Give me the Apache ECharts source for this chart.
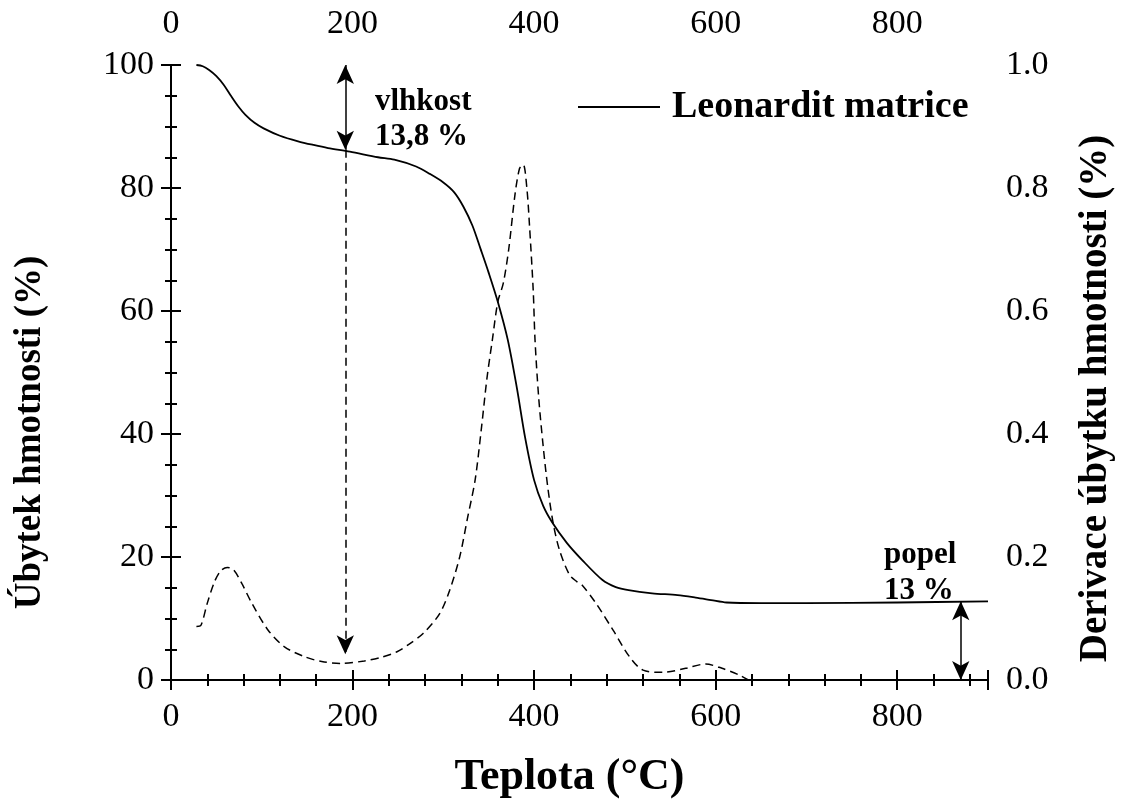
<!DOCTYPE html>
<html>
<head>
<meta charset="utf-8">
<script src="https://cdn.jsdelivr.net/npm/echarts@6/dist/echarts.min.js"></script>
<style>html,body{margin:0;padding:0;background:#fff}#c{width:1123px;height:805px}</style>
</head>
<body>
<div id="c"></div>
<script>
// ---- data ----
const xTicks = [0, 200, 400, 600, 800];
const leftTicks = [0, 20, 40, 60, 80, 100];
const rightTicks = ['0.0', '0.2', '0.4', '0.6', '0.8', '1.0'];

// TG curve: temperature (°C) and weight (%)
const tgTemp = [28, 35, 42, 50, 58, 66, 74, 82, 92, 102, 120, 140, 157, 173, 197, 228, 246, 270, 285, 300, 312, 322, 332, 341, 350, 360, 371, 381, 390, 400, 410, 420, 436, 453, 475, 490, 504, 530, 558, 578, 595, 612, 650, 700, 800, 900];
const tgMass = [100, 99.8, 99.2, 98.2, 96.8, 95.0, 93.3, 91.9, 90.6, 89.7, 88.5, 87.6, 87.0, 86.5, 85.9, 85.0, 84.6, 83.5, 82.3, 80.9, 79.3, 77.0, 73.9, 70.1, 66.2, 61.5, 55.3, 47.5, 39.5, 32.5, 28.3, 25.6, 22.3, 19.5, 16.3, 15.1, 14.6, 14.1, 13.8, 13.4, 13.0, 12.6, 12.5, 12.5, 12.6, 12.8];

// DTG curve: temperature (°C) and derivative (%)
const dtgTemp = [28, 33, 40, 48, 55, 62, 69, 78, 89, 107, 125, 147, 166, 188, 213, 232, 249, 262, 278, 296, 307, 318, 327, 335, 342, 348, 354, 360, 366, 372, 379, 384, 388, 392, 395, 399, 401, 405, 410, 415, 421, 428, 439, 447, 453, 468, 487, 505, 520, 542, 567, 589, 607, 626, 636];
const dtgVal = [0.087, 0.089, 0.125, 0.160, 0.178, 0.183, 0.179, 0.157, 0.125, 0.081, 0.054, 0.038, 0.030, 0.027, 0.031, 0.037, 0.046, 0.058, 0.076, 0.108, 0.146, 0.200, 0.266, 0.325, 0.41, 0.49, 0.553, 0.615, 0.645, 0.70, 0.79, 0.832, 0.838, 0.80, 0.737, 0.634, 0.553, 0.46, 0.38, 0.314, 0.255, 0.211, 0.171, 0.160, 0.154, 0.125, 0.081, 0.038, 0.016, 0.0125, 0.019, 0.026, 0.019, 0.008, 0.0];

// annotations
const moistT = 192, moistTop = 100, moistBottom = 86.2, moistArrowEnd = 4.2;
const ashT = 870, ashTop = 12.8, ashBottom = 0;
const seriesName = 'Leonardit matrice';
const xTitle = 'Teplota (°C)';
const leftTitle = 'Úbytek hmotnosti (%)';
const rightTitle = 'Derivace úbytku hmotnosti (%)';

// ---- chart ----
const F = 'Liberation Serif';
const chart = echarts.init(document.getElementById('c'), null, {renderer: 'canvas'});
const tgData = tgTemp.map((t, i) => [t, tgMass[i]]);
const dtgData = dtgTemp.map((t, i) => [t, dtgVal[i]]);

const axisLine = {show: true, lineStyle: {color: '#000', width: 2}};
const xCommon = {
  type: 'value', min: 0, max: 900, interval: 200,
  axisLine: axisLine,
  axisTick: {show: true, length: 10, lineStyle: {color: '#000', width: 2}},
  minorTick: {show: true, splitNumber: 5, length: 6, lineStyle: {color: '#000', width: 2}},
  splitLine: {show: false},
  axisLabel: {fontFamily: F, fontSize: 34, color: '#000', margin: 20,
    formatter: v => xTicks.includes(v) ? String(v) : ''}
};

const option = {
  backgroundColor: '#fff',
  animation: false,
  grid: {left: 171, right: 126, top: 65, bottom: 125, containLabel: false},
  legend: {
    data: [{name: seriesName, icon: 'rect'}], left: 578, top: 88, padding: 0,
    itemWidth: 82, itemHeight: 2, itemGap: 0,
    textStyle: {fontFamily: F, fontSize: 38, fontWeight: 'bold', color: '#000', padding: [0, 0, 0, 7]}
  },
  xAxis: [
    Object.assign({}, xCommon, {position: 'bottom', name: xTitle, nameLocation: 'middle', nameGap: 76,
      nameTextStyle: {fontFamily: F, fontSize: 44, fontWeight: 'bold', color: '#000', padding: [0, 20, 0, 0]}}),
    Object.assign({}, xCommon, {position: 'top', axisLabel: Object.assign({}, xCommon.axisLabel, {margin: 24})})
  ],
  yAxis: [
    {
      type: 'value', min: 0, max: 100, interval: 20, position: 'left',
      axisLine: axisLine,
      axisTick: {show: true, length: 10, lineStyle: {color: '#000', width: 2}},
      minorTick: {show: true, splitNumber: 4, length: 6, lineStyle: {color: '#000', width: 2}},
      splitLine: {show: false},
      axisLabel: {fontFamily: F, fontSize: 34, color: '#000', margin: 17,
        formatter: v => leftTicks.includes(v) ? String(v) : ''},
      name: leftTitle, nameLocation: 'middle', nameGap: 122, nameRotate: 90,
      nameTextStyle: {fontFamily: F, fontSize: 37, fontWeight: 'bold', color: '#000', padding: [0, 120, 0, 0]}
    },
    {
      type: 'value', min: 0, max: 1, interval: 0.2, position: 'right',
      axisLine: axisLine,
      axisTick: {show: true, length: 10, lineStyle: {color: '#000', width: 2}},
      minorTick: {show: true, splitNumber: 4, length: 6, lineStyle: {color: '#000', width: 2}},
      splitLine: {show: false},
      axisLabel: {fontFamily: F, fontSize: 34, color: '#000', margin: 18,
        formatter: v => { const s = v.toFixed(1); return rightTicks.includes(s) ? s : ''; }},
      name: rightTitle, nameLocation: 'middle', nameGap: 88, nameRotate: 90,
      nameTextStyle: {fontFamily: F, fontSize: 39, fontWeight: 'bold', color: '#000', padding: [0, 52, 0, 0]}
    }
  ],
  series: [
    {
      name: seriesName, type: 'line', xAxisIndex: 0, yAxisIndex: 0,
      data: tgData, showSymbol: false, symbol: 'none', smooth: 0.3,
      lineStyle: {color: '#000', width: 1.8}, itemStyle: {color: '#000'},
      markLine: {
        silent: true, animation: false, label: {show: false},
        symbol: ['arrow', 'arrow'], symbolSize: [13, 19],
        data: [
          [{coord: [moistT, moistTop], lineStyle: {color: '#000', width: 1.5, type: 'solid'}}, {coord: [moistT, moistBottom]}],
          [{coord: [ashT, ashTop], lineStyle: {color: '#000', width: 1.5, type: 'solid'}}, {coord: [ashT, ashBottom]}],
          [{coord: [moistT, moistBottom], symbol: 'none', lineStyle: {color: '#000', width: 1.5, type: [8, 5]}}, {coord: [moistT, moistArrowEnd], symbol: 'arrow'}]
        ]
      }
    },
    {
      name: 'DTG', type: 'line', xAxisIndex: 0, yAxisIndex: 1,
      data: dtgData, showSymbol: false, symbol: 'none', smooth: 0.3,
      lineStyle: {color: '#000', width: 1.5, type: [8, 5]}, itemStyle: {color: '#000'}
    }
  ],
  graphic: [
    {type: 'text', left: 375, top: 86, style: {text: 'vlhkost', font: 'bold 31px "Liberation Serif"', fill: '#000'}},
    {type: 'text', left: 375, top: 121, style: {text: '13,8 %', font: 'bold 31px "Liberation Serif"', fill: '#000'}},
    {type: 'text', left: 884, top: 539, style: {text: 'popel', font: 'bold 31px "Liberation Serif"', fill: '#000'}},
    {type: 'text', left: 884, top: 575, style: {text: '13 %', font: 'bold 31px "Liberation Serif"', fill: '#000'}}
  ]
};
chart.setOption(option);
</script>
</body>
</html>
